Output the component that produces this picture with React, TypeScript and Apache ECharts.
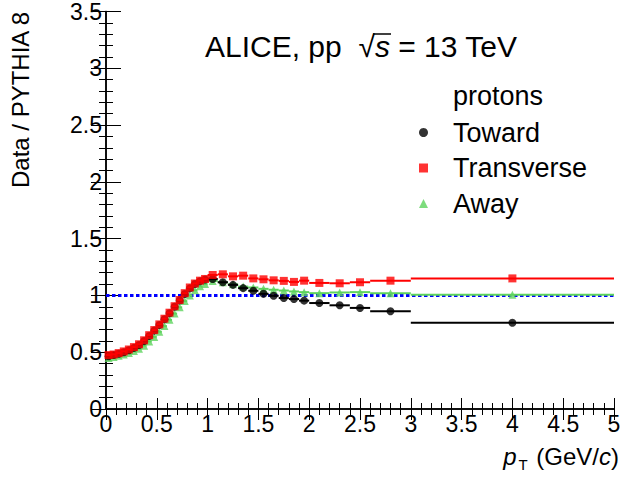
import React, { useEffect, useRef } from "react";
import * as echarts from "echarts";

const ptCenter = [
  0.025, 0.075, 0.125, 0.175, 0.225, 0.275, 0.325, 0.375, 0.425, 0.475,
  0.525, 0.575, 0.625, 0.675, 0.725, 0.775, 0.825, 0.875, 0.925, 0.975,
  1.05, 1.15, 1.25, 1.35, 1.45, 1.55, 1.65, 1.75, 1.85, 1.95,
  2.1, 2.3, 2.5, 2.8, 4.0,
];
const ptHalfWidth = [
  0.025, 0.025, 0.025, 0.025, 0.025, 0.025, 0.025, 0.025, 0.025, 0.025,
  0.025, 0.025, 0.025, 0.025, 0.025, 0.025, 0.025, 0.025, 0.025, 0.025,
  0.05, 0.05, 0.05, 0.05, 0.05, 0.05, 0.05, 0.05, 0.05, 0.05,
  0.1, 0.1, 0.1, 0.2, 1.0,
];
const toward = [
  0.465, 0.475, 0.487, 0.5, 0.517, 0.538, 0.563, 0.598, 0.643, 0.69,
  0.74, 0.79, 0.843, 0.9, 0.955, 1.013, 1.062, 1.1, 1.125, 1.14,
  1.145, 1.116, 1.093, 1.064, 1.041, 1.014, 0.997, 0.977, 0.968, 0.954,
  0.933, 0.913, 0.89, 0.861, 0.76,
];
const transverse = [
  0.475, 0.48, 0.492, 0.507, 0.524, 0.545, 0.57, 0.605, 0.65, 0.695,
  0.745, 0.795, 0.848, 0.905, 0.96, 1.02, 1.07, 1.105, 1.13, 1.145,
  1.18, 1.186, 1.168, 1.174, 1.15, 1.142, 1.133, 1.128, 1.119, 1.13,
  1.11, 1.107, 1.116, 1.13, 1.15,
];
const away = [
  0.45, 0.458, 0.468, 0.48, 0.493, 0.51, 0.53, 0.558, 0.595, 0.635,
  0.68, 0.73, 0.785, 0.84, 0.895, 0.95, 1.0, 1.045, 1.08, 1.1,
  1.128, 1.116, 1.098, 1.078, 1.07, 1.058, 1.05, 1.043, 1.035, 1.029,
  1.02, 1.026, 1.029, 1.02, 1.006,
];
const xTicks = { min: 0, max: 5, interval: 0.5 };
const yTicks = { min: 0, max: 3.5, interval: 0.5 };
const referenceLine = [[0, 1], [5, 1]];

const FONT = "Liberation Sans, Arial, Helvetica, sans-serif";

function buildSeries(name: string, values: number[], color: string, symbol: string, size: number, z: number) {
  const errData = ptCenter.map((x, i) => [x, values[i], x - ptHalfWidth[i], x + ptHalfWidth[i]]);
  const pts = ptCenter.map((x, i) => [x, values[i]]);
  return [
    {
      name: name + " bins",
      type: "custom",
      z,
      renderItem: (_p: any, api: any) => {
        const y = api.value(1);
        const a = api.coord([api.value(2), y]);
        const b = api.coord([api.value(3), y]);
        return {
          type: "line",
          shape: { x1: a[0], y1: a[1], x2: b[0], y2: b[1] },
          style: { stroke: color, lineWidth: 2 },
        };
      },
      encode: { x: 0, y: 1 },
      data: errData,
    },
    {
      name,
      type: "scatter",
      z: z + 1,
      symbol,
      symbolSize: size,
      itemStyle: { color },
      data: pts,
    },
  ];
}

export default function App() {
  const ref = useRef<HTMLDivElement>(null);
  useEffect(() => {
    const chart = echarts.init(ref.current!, null, { renderer: "svg" });
    const axisCommon = {
      type: "value",
      axisLine: { show: true, lineStyle: { color: "#000", width: 1.5 } },
      splitLine: { show: false },
    };
    const xt = {
      axisTick: { inside: true, length: 11, lineStyle: { color: "#000" } },
      minorTick: { show: true, splitNumber: 5, length: 6, lineStyle: { color: "#000" } },
    };
    const yt = {
      axisTick: { inside: true, length: 15, lineStyle: { color: "#000" } },
      minorTick: { show: true, splitNumber: 5, length: 7, lineStyle: { color: "#000" } },
    };
    chart.setOption({
      animation: false,
      backgroundColor: "#fff",
      grid: { left: 106, right: 10, top: 8, bottom: 72 },
      legend: {
        orient: "vertical",
        left: 414,
        top: 114,
        itemWidth: 9,
        itemHeight: 9,
        itemGap: 8.5,
        textStyle: { fontSize: 27, color: "#000", fontFamily: FONT, padding: [0, 0, 0, 20] },
        data: [
          { name: "Toward", icon: "circle" },
          { name: "Transverse", icon: "rect" },
          { name: "Away", icon: "triangle" },
        ],
      },
      xAxis: [
        {
          ...axisCommon,
          position: "bottom",
          ...xTicks,
          ...xt,
          axisLabel: { fontSize: 23, color: "#000", fontFamily: FONT, margin: 3 },
        },
        {
          ...axisCommon,
          position: "top",
          ...xTicks,
          ...xt,
          axisLabel: { show: false },
        },
      ],
      yAxis: [
        {
          ...axisCommon,
          position: "left",
          ...yTicks,
          ...yt,
          axisLabel: { fontSize: 23, color: "#000", fontFamily: FONT, margin: 4 },
        },
        {
          ...axisCommon,
          position: "right",
          ...yTicks,
          ...yt,
          axisLabel: { show: false },
        },
      ],
      series: [
        {
          name: "ratio = 1",
          type: "line",
          z: 1,
          symbol: "none",
          data: referenceLine,
          lineStyle: { color: "#0000ff", width: 3, type: [3.5, 2.5] },
        },
        ...buildSeries("Away", away, "#5dd35d", "triangle", 8, 2),
        ...buildSeries("Toward", toward, "#000000", "circle", 8, 4),
        ...buildSeries("Transverse", transverse, "#ff0000", "rect", 8, 6),
      ],
      graphic: [
        {
          type: "text",
          left: 205,
          top: 31,
          style: {
            text: "ALICE, pp  \u221A{i|s} = 13 TeV",
            font: `30px ${FONT}`,
            fill: "#000",
            rich: { i: { fontStyle: "italic", fontSize: 30, fontFamily: FONT } },
          },
        },
        {
          type: "line",
          shape: { x1: 373, y1: 34, x2: 391, y2: 34 },
          style: { stroke: "#000", lineWidth: 1.5 },
        },
        {
          type: "text",
          left: 453,
          top: 82,
          style: { text: "protons", font: `27px ${FONT}`, fill: "#000" },
        },
        {
          type: "text",
          x: 20,
          y: 100,
          rotation: Math.PI / 2,
          style: {
            text: "Data / PYTHIA 8",
            font: `24px ${FONT}`,
            fill: "#000",
            align: "center",
            verticalAlign: "middle",
          },
        },
        {
          type: "text",
          right: 5,
          top: 444,
          style: {
            text: "{i|p}{sub|T} (GeV/{i|c})",
            font: `24px ${FONT}`,
            fill: "#000",
            rich: {
              i: { fontStyle: "italic", fontSize: 24, fontFamily: FONT },
              sub: { fontSize: 15, fontFamily: FONT, padding: [16, 2, 0, 2] },
            },
          },
        },
      ],
    });
    return () => chart.dispose();
  }, []);
  return (
    <div
      ref={ref}
      style={{ position: "fixed", left: 0, top: 0, width: 624, height: 481 }}
    />
  );
}
